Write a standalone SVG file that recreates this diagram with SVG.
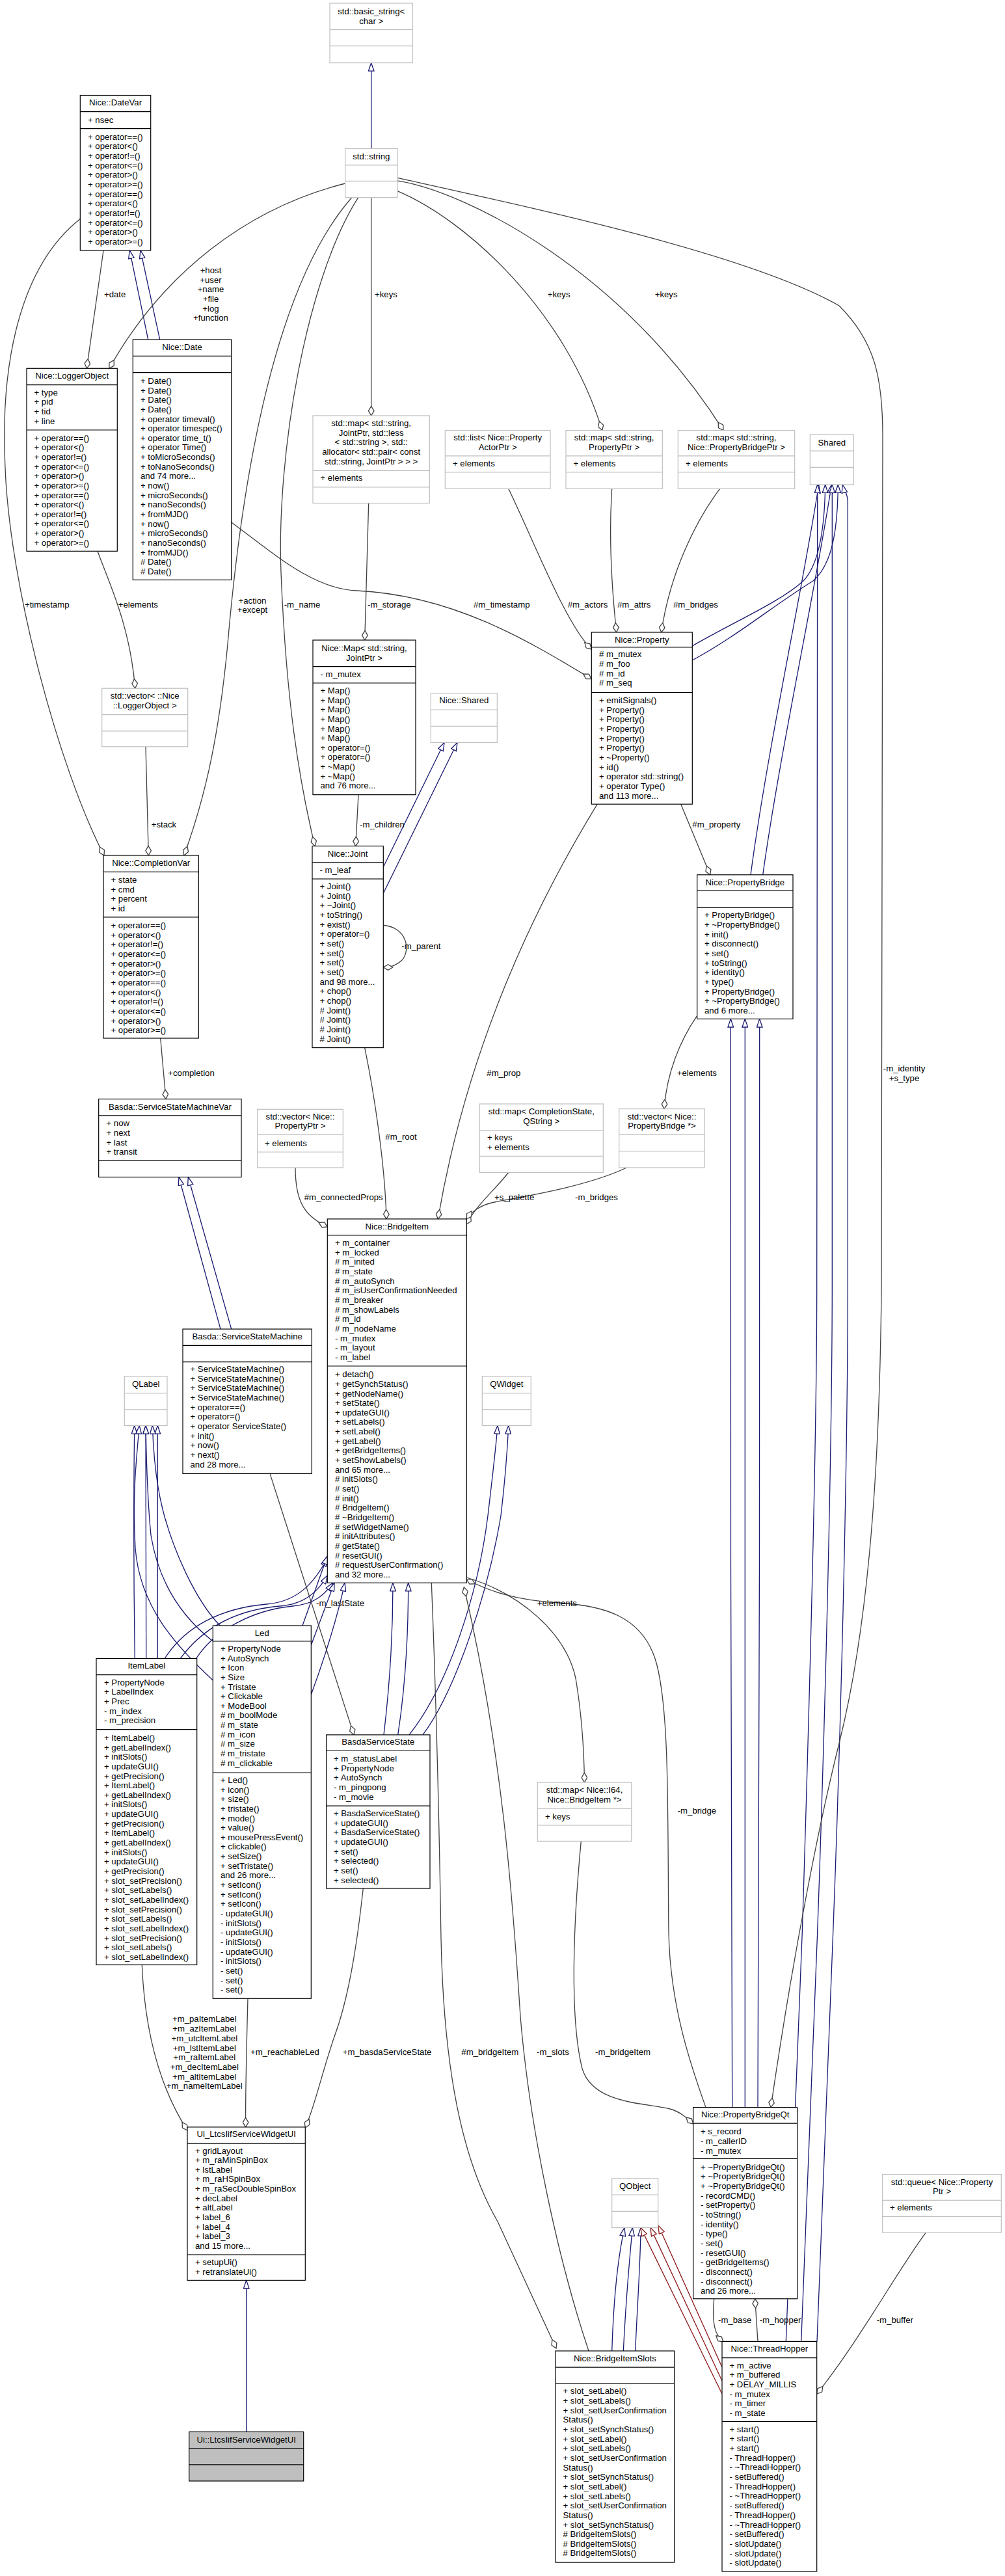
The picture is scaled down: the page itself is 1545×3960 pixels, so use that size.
<svg xmlns="http://www.w3.org/2000/svg" width="1545" height="3960" viewBox="0 0 1545 3960">
<style>
text{font-family:"Liberation Sans",Arial,Helvetica,sans-serif;font-size:13.2px;fill:#000}
.c{text-anchor:middle}
.b{fill:#fff;stroke:#000;stroke-width:1.2}
.g{fill:#fff;stroke:#bfbfbf;stroke-width:1.2}
.f{fill:#bfbfbf;stroke:#000;stroke-width:1.2}
.sb{stroke:#000;stroke-width:1.2;fill:none}
.sg{stroke:#bfbfbf;stroke-width:1.2;fill:none}
.i{fill:none;stroke:#191970;stroke-width:1.3;marker-end:url(#tb)}
.r{fill:none;stroke:#8b1a1a;stroke-width:1.3;marker-end:url(#tr)}
.u{fill:none;stroke:#404040;stroke-width:1.3;marker-end:url(#dm)}
</style>
<defs>
<marker id="tb" viewBox="0 0 14 10" refX="13.3" refY="5" markerWidth="14" markerHeight="10" orient="auto" markerUnits="userSpaceOnUse"><path d="M0.7,0.7 L13.3,5 L0.7,9.3 Z" fill="#fff" stroke="#191970" stroke-width="1.3"/></marker>
<marker id="tr" viewBox="0 0 14 10" refX="13.3" refY="5" markerWidth="14" markerHeight="10" orient="auto" markerUnits="userSpaceOnUse"><path d="M0.7,0.7 L13.3,5 L0.7,9.3 Z" fill="#fff" stroke="#8b1a1a" stroke-width="1.3"/></marker>
<marker id="dm" viewBox="0 0 16 10" refX="15.3" refY="5" markerWidth="16" markerHeight="10" orient="auto" markerUnits="userSpaceOnUse"><path d="M0.7,5 L8,0.7 L15.3,5 L8,9.3 Z" fill="#fff" stroke="#404040" stroke-width="1.3"/></marker>
</defs>
<rect width="1545" height="3960" fill="#fff"/>

<g id="connectors">
<!-- inheritance -->
<path class="i" d="M570.7,228.5 L570.7,96.6"/>
<path class="i" d="M227.7,522 L199.3,384.8"/>
<path class="i" d="M245.7,522 L216,384.8"/>
<path class="i" d="M589.3,1332.8 L683,1141.5"/>
<path class="i" d="M589.3,1373.2 L703,1141.5"/>
<path class="i" d="M1064.3,993 C1130,955 1200,925 1235,893 C1262,865 1268,800 1268.7,745"/>
<path class="i" d="M1064.3,1015 C1130,980 1190,930 1250,893 C1283,865 1288,800 1288.3,745"/>
<path class="i" d="M1154,1344.8 C1180,1150 1235,900 1258.7,745"/>
<path class="i" d="M1172.7,1344.8 C1200,1150 1255,900 1278.3,745"/>
<path class="i" d="M1208.3,3599.4 L1233.3,2970 C1245,2600 1255.7,2200 1255.7,1980 L1256.7,745"/>
<path class="i" d="M1231.7,3599.4 L1256.7,2970 C1270,2600 1279.3,2200 1279.3,1980 L1279.3,745"/>
<path class="i" d="M1256,3599.4 L1280.7,2970 C1295,2600 1303.3,2200 1303.3,1980 L1303.3,770 C1303.3,760 1297,752 1295.3,745"/>
<path class="i" d="M1125.7,3239.6 C1123,3100 1123.3,1700 1123.3,1566.4"/>
<path class="i" d="M1145.3,3239.6 L1145.3,1566.4"/>
<path class="i" d="M1165,3239.6 C1168,3100 1167.7,1700 1167.7,1566.4"/>
<path class="i" d="M339,2043.1 L275,1809.5"/>
<path class="i" d="M355.7,2043.1 L289.3,1809.5"/>
<path class="i" d="M207.3,2549.5 C205,2400 206,2250 206.7,2191.5"/>
<path class="i" d="M224.7,2549.5 L224,2191.5"/>
<path class="i" d="M242.3,2549.5 C243,2400 242.3,2250 242.3,2191.5"/>
<path class="i" d="M327.3,2583 C270,2530 215,2470 208,2380 C203,2300 210,2240 214.3,2191.5"/>
<path class="i" d="M327.3,2523 C285,2490 245,2440 232,2360 C226,2300 225,2240 224,2191.5"/>
<path class="i" d="M338.3,2499 C300,2460 265,2380 250,2320 C240,2280 236,2240 234.3,2191.5"/>
<path class="i" d="M253.3,2549.5 C285,2500 340,2472 410,2466 C460,2462 485,2430 503.3,2395"/>
<path class="i" d="M277.3,2549.5 C310,2505 360,2475 430,2469 C470,2466 490,2445 503.3,2422"/>
<path class="i" d="M301.7,2549.5 C330,2505 390,2475 450,2469 C485,2466 500,2450 511.7,2433.3"/>
<path class="i" d="M465,2499 L503.3,2392"/>
<path class="i" d="M478.3,2529 L514,2433.3"/>
<path class="i" d="M478.3,2605 C495,2560 518,2490 530,2433.3"/>
<path class="i" d="M590,2666.9 C598,2600 604,2520 604,2433.3"/>
<path class="i" d="M611.7,2666.9 C622,2600 627.7,2520 627.7,2433.3"/>
<path class="i" d="M629,2666.9 C690,2590 735,2450 750,2330 C757,2270 762,2230 765,2191.5"/>
<path class="i" d="M650,2666.9 C700,2600 750,2450 770,2330 C777,2270 780,2230 781.7,2191.5"/>
<path class="i" d="M940.7,3614 C943,3540 950,3470 960,3424.6"/>
<path class="i" d="M958.3,3614 C962,3540 968,3470 972.3,3424.6"/>
<path class="i" d="M976.7,3614 C980,3540 985,3470 985,3424.6"/>
<path class="r" d="M1110,3680 L985,3424.6"/>
<path class="r" d="M1110,3660 L1000,3424.6"/>
<path class="r" d="M1110,3639 L1012,3421"/>
<path class="i" d="M378.7,3738.3 L378.7,3505.4"/>
<!-- usage -->
<path class="u" d="M159,385 L133.3,566.3"/>
<path class="u" d="M530.7,282 C380,320 250,420 168,566.3"/>
<path class="u" d="M150,847.3 C165,890 200,960 207.7,1058.2"/>
<path class="u" d="M123.3,336.5 C30,410 0,560 8,720 C15,900 90,1180 160,1315"/>
<path class="u" d="M224,1147.8 L228.3,1315"/>
<path class="u" d="M540.7,303.7 C430,430 375,700 350,990 C335,1150 310,1240 283,1315"/>
<path class="u" d="M550.7,303.7 C470,430 425,700 432,880 C440,1080 460,1200 484,1300.6"/>
<path class="u" d="M570.7,303.7 L570.7,639"/>
<path class="u" d="M611,293.6 C720,340 870,480 925.7,661.6"/>
<path class="u" d="M611,277.8 C720,295 960,420 1112,661.6"/>
<path class="u" d="M611,273.4 C820,320 1150,390 1290,470 C1345,525 1358,580 1357,680 L1355,1980 C1352,2300 1330,2520 1290,2680 C1260,2800 1220,3000 1185,3239.6"/>
<path class="u" d="M781.7,751.3 C820,830 870,960 909.3,998"/>
<path class="u" d="M940.7,751.3 C936,820 940,900 947.7,972"/>
<path class="u" d="M1106.7,751.3 C1070,800 1030,880 1016.7,972"/>
<path class="u" d="M355.7,803 C420,850 480,905 548,908 C700,915 820,990 909.3,1043.7"/>
<path class="u" d="M566.7,773.5 L560.7,984"/>
<path class="u" d="M551,1221.7 L546.7,1300.6"/>
<path class="u" d="M589.3,1422.5 C625,1425 632,1460 618,1476 C610,1484 600,1487 589.3,1487"/>
<path class="u" d="M560.7,1610.6 C575,1680 592,1790 594,1873.9"/>
<path class="u" d="M918.3,1236.2 C830,1380 720,1600 673.3,1873.9"/>
<path class="u" d="M246.7,1596 L255,1689.5"/>
<path class="u" d="M454,1795 C454,1850 470,1870 503.3,1886"/>
<path class="u" d="M781.7,1802.5 C760,1830 730,1855 717.3,1882"/>
<path class="u" d="M963.3,1795 C900,1825 800,1840 760,1848 C740,1852 725,1862 717.3,1874"/>
<path class="u" d="M1071.7,1561.3 C1045,1600 1025,1650 1021,1704.6"/>
<path class="u" d="M1046.7,1236.2 L1091.7,1344.8"/>
<path class="u" d="M415,2265.4 L544,2666.9"/>
<path class="u" d="M717.3,2425 C800,2450 870,2510 885,2580 C895,2640 898,2700 898.5,2740"/>
<path class="u" d="M893.3,2830.4 C882,2950 875,3100 895,3180 C912,3235 990,3232 1030,3242 C1045,3246 1055,3255 1065.7,3265"/>
<path class="u" d="M663.3,2433.3 C672,2650 676,2850 678,2980 C682,3180 710,3320 765,3415 L855,3610"/>
<path class="u" d="M905,3614 C860,3480 815,3280 800,3100 C790,2950 775,2700 713.3,2440"/>
<path class="u" d="M1085,3239.6 C1060,3170 1030,3080 1028,2970 C1026,2800 1030,2640 1010,2560 C990,2480 920,2468 860,2464 C790,2460 750,2445 717.3,2428"/>
<path class="u" d="M558.3,2903 C552,2960 540,3060 515,3128 C495,3185 485,3235 469.3,3271"/>
<path class="u" d="M218.3,3020.5 C222,3110 240,3200 288,3275"/>
<path class="u" d="M381,3072.3 C379,3150 377,3220 377.7,3269.9"/>
<path class="u" d="M1423.3,3432.1 C1380,3490 1320,3600 1255.7,3680"/>
<path class="u" d="M1097.7,3533.8 C1094,3575 1100,3590 1112,3600"/>
<path class="u" d="M1165,3599.4 L1160.7,3533.8"/>
<!-- labels -->
<text x="160" y="457.3">+date</text>
<text class="c" x="324" y="420.1"><tspan x="324">+host</tspan><tspan x="324" dy="14.65">+user</tspan><tspan x="324" dy="14.65">+name</tspan><tspan x="324" dy="14.65">+file</tspan><tspan x="324" dy="14.65">+log</tspan><tspan x="324" dy="14.65">+function</tspan></text>
<text x="576" y="457.3">+keys</text>
<text x="841.7" y="457.3">+keys</text>
<text x="1006.7" y="457.3">+keys</text>
<text x="38" y="933.9">+timestamp</text>
<text x="181.7" y="933.9">+elements</text>
<text class="c" x="388" y="927.6"><tspan x="388">+action</tspan><tspan x="388" dy="14.65">+except</tspan></text>
<text x="436.7" y="933.9">-m_name</text>
<text x="565" y="933.9">-m_storage</text>
<text x="728" y="933.9">#m_timestamp</text>
<text x="872.7" y="933.9">#m_actors</text>
<text x="949" y="933.9">#m_attrs</text>
<text x="1035" y="933.9">#m_bridges</text>
<text x="232.7" y="1272.4">+stack</text>
<text x="553" y="1272.4">-m_children</text>
<text x="1064.3" y="1272.4">#m_property</text>
<text x="617.3" y="1459.3">-m_parent</text>
<text x="258.3" y="1654.3">+completion</text>
<text x="748.3" y="1654.3">#m_prop</text>
<text x="1040.7" y="1654.3">+elements</text>
<text class="c" x="1390" y="1646.8"><tspan x="1390">-m_identity</tspan><tspan x="1390" dy="15">+s_type</tspan></text>
<text x="592.3" y="1752.2">#m_root</text>
<text x="467.7" y="1845">#m_connectedProps</text>
<text x="760" y="1845">+s_palette</text>
<text x="884" y="1845">-m_bridges</text>
<text x="486" y="2468.8">-m_lastState</text>
<text x="825.7" y="2468.8">+elements</text>
<text x="1041.7" y="2788.3">-m_bridge</text>
<text class="c" x="314.3" y="3108.4"><tspan x="314.3">+m_paItemLabel</tspan><tspan x="314.3" dy="14.7">+m_azItemLabel</tspan><tspan x="314.3" dy="14.7">+m_utcItemLabel</tspan><tspan x="314.3" dy="14.7">+m_lstItemLabel</tspan><tspan x="314.3" dy="14.7">+m_raItemLabel</tspan><tspan x="314.3" dy="14.7">+m_decItemLabel</tspan><tspan x="314.3" dy="14.7">+m_altItemLabel</tspan><tspan x="314.3" dy="14.7">+m_nameItemLabel</tspan></text>
<text x="385" y="3159">+m_reachableLed</text>
<text x="526.7" y="3159">+m_basdaServiceState</text>
<text x="709.3" y="3159">#m_bridgeItem</text>
<text x="825" y="3159">-m_slots</text>
<text x="915" y="3159">-m_bridgeItem</text>
<text x="1104" y="3571.2">-m_base</text>
<text x="1167.7" y="3571.2">-m_hopper</text>
<text x="1347.7" y="3571.2">-m_buffer</text>
</g>

<g id="n_basic_string"><rect class="g" x="507" y="5" width="127.3" height="91.6"/><path class="sg" d="M507,45.5h127.3M507,70.7h127.3"/><text class="c" x="570.7" y="22.3"><tspan x="570.7">std::basic_string&lt;</tspan><tspan x="570.7" dy="15.1">char &gt;</tspan></text></g>

<g id="n_string"><rect class="g" x="530.7" y="228.5" width="80.3" height="75.2"/><path class="sg" d="M530.7,253.8h80.3M530.7,278.4h80.3"/><text class="c" x="570.85" y="244.6">std::string</text></g>

<g id="n_datevar"><rect class="b" x="123.3" y="146.5" width="108.4" height="238.5"/><path class="sb" d="M123.3,171.7h108.4M123.3,197.6h108.4"/><text class="c" x="177.5" y="162.4">Nice::DateVar</text><text x="135" y="188.9">+ nsec</text>
<text x="135" y="214.8"><tspan x="135">+ operator==()</tspan><tspan x="135" dy="14.65">+ operator&lt;()</tspan><tspan x="135" dy="14.65">+ operator!=()</tspan><tspan x="135" dy="14.65">+ operator&lt;=()</tspan><tspan x="135" dy="14.65">+ operator&gt;()</tspan><tspan x="135" dy="14.65">+ operator&gt;=()</tspan><tspan x="135" dy="14.65">+ operator==()</tspan><tspan x="135" dy="14.65">+ operator&lt;()</tspan><tspan x="135" dy="14.65">+ operator!=()</tspan><tspan x="135" dy="14.65">+ operator&lt;=()</tspan><tspan x="135" dy="14.65">+ operator&gt;()</tspan><tspan x="135" dy="14.65">+ operator&gt;=()</tspan></text></g>

<g id="n_loggerobject"><rect class="b" x="41" y="566.3" width="139.3" height="281"/><path class="sb" d="M41,591.6h139.3M41,661h139.3"/><text class="c" x="110.65" y="582.3">Nice::LoggerObject</text>
<text x="52.5" y="607.6"><tspan x="52.5">+ type</tspan><tspan x="52.5" dy="14.65">+ pid</tspan><tspan x="52.5" dy="14.65">+ tid</tspan><tspan x="52.5" dy="14.65">+ line</tspan></text>
<text x="52.5" y="677.6"><tspan x="52.5">+ operator==()</tspan><tspan x="52.5" dy="14.65">+ operator&lt;()</tspan><tspan x="52.5" dy="14.65">+ operator!=()</tspan><tspan x="52.5" dy="14.65">+ operator&lt;=()</tspan><tspan x="52.5" dy="14.65">+ operator&gt;()</tspan><tspan x="52.5" dy="14.65">+ operator&gt;=()</tspan><tspan x="52.5" dy="14.65">+ operator==()</tspan><tspan x="52.5" dy="14.65">+ operator&lt;()</tspan><tspan x="52.5" dy="14.65">+ operator!=()</tspan><tspan x="52.5" dy="14.65">+ operator&lt;=()</tspan><tspan x="52.5" dy="14.65">+ operator&gt;()</tspan><tspan x="52.5" dy="14.65">+ operator&gt;=()</tspan></text></g>

<g id="n_date"><rect class="b" x="204.3" y="522" width="151.4" height="369.5"/><path class="sb" d="M204.3,547.4h151.4M204.3,572.6h151.4"/><text class="c" x="280" y="538.1">Nice::Date</text>
<text x="216" y="589.9"><tspan x="216">+ Date()</tspan><tspan x="216" dy="14.65">+ Date()</tspan><tspan x="216" dy="14.65">+ Date()</tspan><tspan x="216" dy="14.65">+ Date()</tspan><tspan x="216" dy="14.65">+ operator timeval()</tspan><tspan x="216" dy="14.65">+ operator timespec()</tspan><tspan x="216" dy="14.65">+ operator time_t()</tspan><tspan x="216" dy="14.65">+ operator Time()</tspan><tspan x="216" dy="14.65">+ toMicroSeconds()</tspan><tspan x="216" dy="14.65">+ toNanoSeconds()</tspan><tspan x="216" dy="14.65">and 74 more...</tspan><tspan x="216" dy="14.65">+ now()</tspan><tspan x="216" dy="14.65">+ microSeconds()</tspan><tspan x="216" dy="14.65">+ nanoSeconds()</tspan><tspan x="216" dy="14.65">+ fromMJD()</tspan><tspan x="216" dy="14.65">+ now()</tspan><tspan x="216" dy="14.65">+ microSeconds()</tspan><tspan x="216" dy="14.65">+ nanoSeconds()</tspan><tspan x="216" dy="14.65">+ fromMJD()</tspan><tspan x="216" dy="14.65"># Date()</tspan><tspan x="216" dy="14.65"># Date()</tspan></text></g>

<g id="n_map_joint"><rect class="g" x="481" y="639" width="179.3" height="134.5"/><path class="sg" d="M481,723.5h179.3M481,748.8h179.3"/><text class="c" x="570.65" y="654.9"><tspan x="570.65">std::map&lt; std::string,</tspan><tspan x="570.65" dy="14.65">JointPtr, std::less</tspan><tspan x="570.65" dy="14.65">&lt; std::string &gt;, std::</tspan><tspan x="570.65" dy="14.65">allocator&lt; std::pair&lt; const</tspan><tspan x="570.65" dy="14.65">std::string, JointPtr &gt; &gt; &gt;</tspan></text><text x="492.5" y="738.9">+ elements</text></g>

<g id="n_list_actor"><rect class="g" x="684.3" y="661.6" width="161.7" height="89.7"/><path class="sg" d="M684.3,700.8h161.7M684.3,726h161.7"/><text class="c" x="765.15" y="677"><tspan x="765.15">std::list&lt; Nice::Property</tspan><tspan x="765.15" dy="14.65">ActorPtr &gt;</tspan></text><text x="696" y="716.7">+ elements</text></g>

<g id="n_map_prop"><rect class="g" x="870" y="661.6" width="148.3" height="89.7"/><path class="sg" d="M870,700.8h148.3M870,726h148.3"/><text class="c" x="944.15" y="677"><tspan x="944.15">std::map&lt; std::string,</tspan><tspan x="944.15" dy="14.65">PropertyPtr &gt;</tspan></text><text x="881.5" y="716.7">+ elements</text></g>

<g id="n_map_pbptr"><rect class="g" x="1042.3" y="661.6" width="179.4" height="89.7"/><path class="sg" d="M1042.3,700.8h179.4M1042.3,726h179.4"/><text class="c" x="1132" y="677"><tspan x="1132">std::map&lt; std::string,</tspan><tspan x="1132" dy="14.65">Nice::PropertyBridgePtr &gt;</tspan></text><text x="1054" y="716.7">+ elements</text></g>

<g id="n_shared"><rect class="g" x="1245.3" y="668" width="67" height="77"/><path class="sg" d="M1245.3,693.2h67M1245.3,718.4h67"/><text class="c" x="1278.8" y="685.2">Shared</text></g>

<g id="n_nice_map"><rect class="b" x="481" y="984" width="158" height="237.7"/><path class="sb" d="M481,1024.7h158M481,1050h158"/><text class="c" x="560" y="1000.9"><tspan x="560">Nice::Map&lt; std::string,</tspan><tspan x="560" dy="14.65">JointPtr &gt;</tspan></text><text x="492.5" y="1040.6">- m_mutex</text>
<text x="492.5" y="1065.9"><tspan x="492.5">+ Map()</tspan><tspan x="492.5" dy="14.65">+ Map()</tspan><tspan x="492.5" dy="14.65">+ Map()</tspan><tspan x="492.5" dy="14.65">+ Map()</tspan><tspan x="492.5" dy="14.65">+ Map()</tspan><tspan x="492.5" dy="14.65">+ Map()</tspan><tspan x="492.5" dy="14.65">+ operator=()</tspan><tspan x="492.5" dy="14.65">+ operator=()</tspan><tspan x="492.5" dy="14.65">+ ~Map()</tspan><tspan x="492.5" dy="14.65">+ ~Map()</tspan><tspan x="492.5" dy="14.65">and 76 more...</tspan></text></g>

<g id="n_nice_shared"><rect class="g" x="662.3" y="1065.8" width="102" height="75.7"/><path class="sg" d="M662.3,1091h102M662.3,1116.3h102"/><text class="c" x="713.3" y="1081.1">Nice::Shared</text></g>

<g id="n_property"><rect class="b" x="909.3" y="972" width="155" height="264.2"/><path class="sb" d="M909.3,995h155M909.3,1064.5h155"/><text class="c" x="986.8" y="988">Nice::Property</text>
<text x="921" y="1010.4"><tspan x="921"># m_mutex</tspan><tspan x="921" dy="14.65"># m_foo</tspan><tspan x="921" dy="14.65"># m_id</tspan><tspan x="921" dy="14.65"># m_seq</tspan></text>
<text x="921" y="1081.1"><tspan x="921">+ emitSignals()</tspan><tspan x="921" dy="14.65">+ Property()</tspan><tspan x="921" dy="14.65">+ Property()</tspan><tspan x="921" dy="14.65">+ Property()</tspan><tspan x="921" dy="14.65">+ Property()</tspan><tspan x="921" dy="14.65">+ Property()</tspan><tspan x="921" dy="14.65">+ ~Property()</tspan><tspan x="921" dy="14.65">+ id()</tspan><tspan x="921" dy="14.65">+ operator std::string()</tspan><tspan x="921" dy="14.65">+ operator Type()</tspan><tspan x="921" dy="14.65">and 113 more...</tspan></text></g>

<g id="n_vec_logger"><rect class="g" x="156.7" y="1058.2" width="132" height="89.6"/><path class="sg" d="M156.7,1098.6h132M156.7,1123.8h132"/><text class="c" x="222.7" y="1073.5"><tspan x="222.7">std::vector&lt; ::Nice</tspan><tspan x="222.7" dy="15.2">::LoggerObject &gt;</tspan></text></g>

<g id="n_completionvar"><rect class="b" x="159" y="1315" width="146.3" height="281"/><path class="sb" d="M159,1340.4h146.3M159,1409.8h146.3"/><text class="c" x="232.15" y="1331.1">Nice::CompletionVar</text>
<text x="170.5" y="1357"><tspan x="170.5">+ state</tspan><tspan x="170.5" dy="14.65">+ cmd</tspan><tspan x="170.5" dy="14.65">+ percent</tspan><tspan x="170.5" dy="14.65">+ id</tspan></text>
<text x="170.5" y="1427.1"><tspan x="170.5">+ operator==()</tspan><tspan x="170.5" dy="14.65">+ operator&lt;()</tspan><tspan x="170.5" dy="14.65">+ operator!=()</tspan><tspan x="170.5" dy="14.65">+ operator&lt;=()</tspan><tspan x="170.5" dy="14.65">+ operator&gt;()</tspan><tspan x="170.5" dy="14.65">+ operator&gt;=()</tspan><tspan x="170.5" dy="14.65">+ operator==()</tspan><tspan x="170.5" dy="14.65">+ operator&lt;()</tspan><tspan x="170.5" dy="14.65">+ operator!=()</tspan><tspan x="170.5" dy="14.65">+ operator&lt;=()</tspan><tspan x="170.5" dy="14.65">+ operator&gt;()</tspan><tspan x="170.5" dy="14.65">+ operator&gt;=()</tspan></text></g>

<g id="n_joint"><rect class="b" x="480" y="1300.6" width="109.3" height="310"/><path class="sb" d="M480,1325.9h109.3M480,1351.1h109.3"/><text class="c" x="534.65" y="1316.6">Nice::Joint</text><text x="491.5" y="1341.8">- m_leaf</text>
<text x="491.5" y="1367.1"><tspan x="491.5">+ Joint()</tspan><tspan x="491.5" dy="14.65">+ Joint()</tspan><tspan x="491.5" dy="14.65">+ ~Joint()</tspan><tspan x="491.5" dy="14.65">+ toString()</tspan><tspan x="491.5" dy="14.65">+ exist()</tspan><tspan x="491.5" dy="14.65">+ operator=()</tspan><tspan x="491.5" dy="14.65">+ set()</tspan><tspan x="491.5" dy="14.65">+ set()</tspan><tspan x="491.5" dy="14.65">+ set()</tspan><tspan x="491.5" dy="14.65">+ set()</tspan><tspan x="491.5" dy="14.65">and 98 more...</tspan><tspan x="491.5" dy="14.65">+ chop()</tspan><tspan x="491.5" dy="14.65">+ chop()</tspan><tspan x="491.5" dy="14.65"># Joint()</tspan><tspan x="491.5" dy="14.65"># Joint()</tspan><tspan x="491.5" dy="14.65"># Joint()</tspan><tspan x="491.5" dy="14.65"># Joint()</tspan></text></g>

<g id="n_propertybridge"><rect class="b" x="1071.7" y="1344.8" width="147.3" height="221.6"/><path class="sb" d="M1071.7,1369.4h147.3M1071.7,1395.3h147.3"/><text class="c" x="1145.35" y="1360.8">Nice::PropertyBridge</text>
<text x="1083" y="1411.3"><tspan x="1083">+ PropertyBridge()</tspan><tspan x="1083" dy="14.65">+ ~PropertyBridge()</tspan><tspan x="1083" dy="14.65">+ init()</tspan><tspan x="1083" dy="14.65">+ disconnect()</tspan><tspan x="1083" dy="14.65">+ set()</tspan><tspan x="1083" dy="14.65">+ toString()</tspan><tspan x="1083" dy="14.65">+ identity()</tspan><tspan x="1083" dy="14.65">+ type()</tspan><tspan x="1083" dy="14.65">+ PropertyBridge()</tspan><tspan x="1083" dy="14.65">+ ~PropertyBridge()</tspan><tspan x="1083" dy="14.65">and 6 more...</tspan></text></g>

<g id="n_ssmvar"><rect class="b" x="151.7" y="1689.5" width="219.3" height="120"/><path class="sb" d="M151.7,1714.8h219.3M151.7,1784.2h219.3"/><text class="c" x="261.35" y="1706.1">Basda::ServiceStateMachineVar</text>
<text x="163.5" y="1731.4"><tspan x="163.5">+ now</tspan><tspan x="163.5" dy="14.65">+ next</tspan><tspan x="163.5" dy="14.65">+ last</tspan><tspan x="163.5" dy="14.65">+ transit</tspan></text></g>

<g id="n_vec_propptr"><rect class="g" x="395.7" y="1705.3" width="131.6" height="89.7"/><path class="sg" d="M395.7,1744.4h131.6M395.7,1771h131.6"/><text class="c" x="461.5" y="1720.6"><tspan x="461.5">std::vector&lt; Nice::</tspan><tspan x="461.5" dy="14.65">PropertyPtr &gt;</tspan></text><text x="407" y="1761.6">+ elements</text></g>

<g id="n_map_cs"><rect class="g" x="737.3" y="1697" width="190" height="105.5"/><path class="sg" d="M737.3,1737.5h190M737.3,1777.3h190"/><text class="c" x="832.3" y="1713"><tspan x="832.3">std::map&lt; CompletionState,</tspan><tspan x="832.3" dy="14.65">QString &gt;</tspan></text><text x="749" y="1753.4"><tspan x="749">+ keys</tspan><tspan x="749" dy="14.65">+ elements</tspan></text></g>

<g id="n_vec_pb"><rect class="g" x="951.7" y="1704.6" width="131.6" height="90.4"/><path class="sg" d="M951.7,1744.4h131.6M951.7,1769.7h131.6"/><text class="c" x="1017.5" y="1720.6"><tspan x="1017.5">std::vector&lt; Nice::</tspan><tspan x="1017.5" dy="14.65">PropertyBridge *&gt;</tspan></text></g>

<g id="n_bridgeitem"><rect class="b" x="503.3" y="1873.9" width="214" height="559.4"/><path class="sb" d="M503.3,1899h214M503.3,2100h214"/><text class="c" x="610.3" y="1889.8">Nice::BridgeItem</text>
<text x="515" y="1915.1"><tspan x="515">+ m_container</tspan><tspan x="515" dy="14.65">+ m_locked</tspan><tspan x="515" dy="14.65"># m_inited</tspan><tspan x="515" dy="14.65"># m_state</tspan><tspan x="515" dy="14.65"># m_autoSynch</tspan><tspan x="515" dy="14.65"># m_isUserConfirmationNeeded</tspan><tspan x="515" dy="14.65"># m_breaker</tspan><tspan x="515" dy="14.65"># m_showLabels</tspan><tspan x="515" dy="14.65"># m_id</tspan><tspan x="515" dy="14.65"># m_nodeName</tspan><tspan x="515" dy="14.65">- m_mutex</tspan><tspan x="515" dy="14.65">- m_layout</tspan><tspan x="515" dy="14.65">- m_label</tspan></text>
<text x="515" y="2117.2"><tspan x="515">+ detach()</tspan><tspan x="515" dy="14.65">+ getSynchStatus()</tspan><tspan x="515" dy="14.65">+ getNodeName()</tspan><tspan x="515" dy="14.65">+ setState()</tspan><tspan x="515" dy="14.65">+ updateGUI()</tspan><tspan x="515" dy="14.65">+ setLabels()</tspan><tspan x="515" dy="14.65">+ setLabel()</tspan><tspan x="515" dy="14.65">+ getLabel()</tspan><tspan x="515" dy="14.65">+ getBridgeItems()</tspan><tspan x="515" dy="14.65">+ setShowLabels()</tspan><tspan x="515" dy="14.65">and 65 more...</tspan><tspan x="515" dy="14.65"># initSlots()</tspan><tspan x="515" dy="14.65"># set()</tspan><tspan x="515" dy="14.65"># init()</tspan><tspan x="515" dy="14.65"># BridgeItem()</tspan><tspan x="515" dy="14.65"># ~BridgeItem()</tspan><tspan x="515" dy="14.65"># setWidgetName()</tspan><tspan x="515" dy="14.65"># initAttributes()</tspan><tspan x="515" dy="14.65"># getState()</tspan><tspan x="515" dy="14.65"># resetGUI()</tspan><tspan x="515" dy="14.65"># requestUserConfirmation()</tspan><tspan x="515" dy="14.65">and 32 more...</tspan></text></g>

<g id="n_ssm"><rect class="b" x="281" y="2043.1" width="198.3" height="222.3"/><path class="sb" d="M281,2068.4h198.3M281,2093.6h198.3"/><text class="c" x="380.15" y="2059.1">Basda::ServiceStateMachine</text>
<text x="292.5" y="2109"><tspan x="292.5">+ ServiceStateMachine()</tspan><tspan x="292.5" dy="14.65">+ ServiceStateMachine()</tspan><tspan x="292.5" dy="14.65">+ ServiceStateMachine()</tspan><tspan x="292.5" dy="14.65">+ ServiceStateMachine()</tspan><tspan x="292.5" dy="14.65">+ operator==()</tspan><tspan x="292.5" dy="14.65">+ operator=()</tspan><tspan x="292.5" dy="14.65">+ operator ServiceState()</tspan><tspan x="292.5" dy="14.65">+ init()</tspan><tspan x="292.5" dy="14.65">+ now()</tspan><tspan x="292.5" dy="14.65">+ next()</tspan><tspan x="292.5" dy="14.65">and 28 more...</tspan></text></g>

<g id="n_qlabel"><rect class="g" x="191.3" y="2115.7" width="65.7" height="75.8"/><path class="sg" d="M191.3,2141.6h65.7M191.3,2166.9h65.7"/><text class="c" x="224.15" y="2131.6">QLabel</text></g>

<g id="n_qwidget"><rect class="g" x="741.3" y="2115.7" width="75" height="75.8"/><path class="sg" d="M741.3,2141.6h75M741.3,2166.9h75"/><text class="c" x="778.8" y="2131.6">QWidget</text></g>

<g id="n_itemlabel"><rect class="b" x="148" y="2549.5" width="154.7" height="471"/><path class="sb" d="M148,2574.7h154.7M148,2658.7h154.7"/><text class="c" x="225.35" y="2565.4">ItemLabel</text>
<text x="160" y="2590.6"><tspan x="160">+ PropertyNode</tspan><tspan x="160" dy="14.65">+ LabelIndex</tspan><tspan x="160" dy="14.65">+ Prec</tspan><tspan x="160" dy="14.65">- m_index</tspan><tspan x="160" dy="14.65">- m_precision</tspan></text>
<text x="160" y="2675.9"><tspan x="160">+ ItemLabel()</tspan><tspan x="160" dy="14.65">+ getLabelIndex()</tspan><tspan x="160" dy="14.65">+ initSlots()</tspan><tspan x="160" dy="14.65">+ updateGUI()</tspan><tspan x="160" dy="14.65">+ getPrecision()</tspan><tspan x="160" dy="14.65">+ ItemLabel()</tspan><tspan x="160" dy="14.65">+ getLabelIndex()</tspan><tspan x="160" dy="14.65">+ initSlots()</tspan><tspan x="160" dy="14.65">+ updateGUI()</tspan><tspan x="160" dy="14.65">+ getPrecision()</tspan><tspan x="160" dy="14.65">+ ItemLabel()</tspan><tspan x="160" dy="14.65">+ getLabelIndex()</tspan><tspan x="160" dy="14.65">+ initSlots()</tspan><tspan x="160" dy="14.65">+ updateGUI()</tspan><tspan x="160" dy="14.65">+ getPrecision()</tspan><tspan x="160" dy="14.65">+ slot_setPrecision()</tspan><tspan x="160" dy="14.65">+ slot_setLabels()</tspan><tspan x="160" dy="14.65">+ slot_setLabelIndex()</tspan><tspan x="160" dy="14.65">+ slot_setPrecision()</tspan><tspan x="160" dy="14.65">+ slot_setLabels()</tspan><tspan x="160" dy="14.65">+ slot_setLabelIndex()</tspan><tspan x="160" dy="14.65">+ slot_setPrecision()</tspan><tspan x="160" dy="14.65">+ slot_setLabels()</tspan><tspan x="160" dy="14.65">+ slot_setLabelIndex()</tspan></text></g>

<g id="n_led"><rect class="b" x="327.3" y="2499" width="151" height="573.3"/><path class="sb" d="M327.3,2523h151M327.3,2725h151"/><text class="c" x="402.8" y="2514.9">Led</text>
<text x="339" y="2538.9"><tspan x="339">+ PropertyNode</tspan><tspan x="339" dy="14.65">+ AutoSynch</tspan><tspan x="339" dy="14.65">+ Icon</tspan><tspan x="339" dy="14.65">+ Size</tspan><tspan x="339" dy="14.65">+ Tristate</tspan><tspan x="339" dy="14.65">+ Clickable</tspan><tspan x="339" dy="14.65">+ ModeBool</tspan><tspan x="339" dy="14.65"># m_boolMode</tspan><tspan x="339" dy="14.65"># m_state</tspan><tspan x="339" dy="14.65"># m_icon</tspan><tspan x="339" dy="14.65"># m_size</tspan><tspan x="339" dy="14.65"># m_tristate</tspan><tspan x="339" dy="14.65"># m_clickable</tspan></text>
<text x="339" y="2740.9"><tspan x="339">+ Led()</tspan><tspan x="339" dy="14.65">+ icon()</tspan><tspan x="339" dy="14.65">+ size()</tspan><tspan x="339" dy="14.65">+ tristate()</tspan><tspan x="339" dy="14.65">+ mode()</tspan><tspan x="339" dy="14.65">+ value()</tspan><tspan x="339" dy="14.65">+ mousePressEvent()</tspan><tspan x="339" dy="14.65">+ clickable()</tspan><tspan x="339" dy="14.65">+ setSize()</tspan><tspan x="339" dy="14.65">+ setTristate()</tspan><tspan x="339" dy="14.65">and 26 more...</tspan><tspan x="339" dy="14.65">+ setIcon()</tspan><tspan x="339" dy="14.65">+ setIcon()</tspan><tspan x="339" dy="14.65">+ setIcon()</tspan><tspan x="339" dy="14.65">- updateGUI()</tspan><tspan x="339" dy="14.65">- initSlots()</tspan><tspan x="339" dy="14.65">- updateGUI()</tspan><tspan x="339" dy="14.65">- initSlots()</tspan><tspan x="339" dy="14.65">- updateGUI()</tspan><tspan x="339" dy="14.65">- initSlots()</tspan><tspan x="339" dy="14.65">- set()</tspan><tspan x="339" dy="14.65">- set()</tspan><tspan x="339" dy="14.65">- set()</tspan></text></g>

<g id="n_bss"><rect class="b" x="501.7" y="2666.9" width="159.3" height="236.1"/><path class="sb" d="M501.7,2691.5h159.3M501.7,2776.1h159.3"/><text class="c" x="581.35" y="2682.2">BasdaServiceState</text>
<text x="513" y="2708.1"><tspan x="513">+ m_statusLabel</tspan><tspan x="513" dy="14.65">+ PropertyNode</tspan><tspan x="513" dy="14.65">+ AutoSynch</tspan><tspan x="513" dy="14.65">- m_pingpong</tspan><tspan x="513" dy="14.65">- m_movie</tspan></text>
<text x="513" y="2792.1"><tspan x="513">+ BasdaServiceState()</tspan><tspan x="513" dy="14.65">+ updateGUI()</tspan><tspan x="513" dy="14.65">+ BasdaServiceState()</tspan><tspan x="513" dy="14.65">+ updateGUI()</tspan><tspan x="513" dy="14.65">+ set()</tspan><tspan x="513" dy="14.65">+ selected()</tspan><tspan x="513" dy="14.65">+ set()</tspan><tspan x="513" dy="14.65">+ selected()</tspan></text></g>

<g id="n_map_i64"><rect class="g" x="826.3" y="2740" width="144.4" height="90.4"/><path class="sg" d="M826.3,2780.5h144.4M826.3,2805.8h144.4"/><text class="c" x="898.5" y="2756.1"><tspan x="898.5">std::map&lt; Nice::I64,</tspan><tspan x="898.5" dy="14.65">Nice::BridgeItem *&gt;</tspan></text><text x="838" y="2796.6">+ keys</text></g>

<g id="n_pbqt"><rect class="b" x="1065.7" y="3239.6" width="160" height="294.2"/><path class="sb" d="M1065.7,3264.2h160M1065.7,3318.5h160"/><text class="c" x="1145.7" y="3254.9">Nice::PropertyBridgeQt</text>
<text x="1077" y="3281.4"><tspan x="1077">+ s_record</tspan><tspan x="1077" dy="14.65">- m_callerID</tspan><tspan x="1077" dy="14.65">- m_mutex</tspan></text>
<text x="1077" y="3335.7"><tspan x="1077">+ ~PropertyBridgeQt()</tspan><tspan x="1077" dy="14.65">+ ~PropertyBridgeQt()</tspan><tspan x="1077" dy="14.65">+ ~PropertyBridgeQt()</tspan><tspan x="1077" dy="14.65">- recordCMD()</tspan><tspan x="1077" dy="14.65">- setProperty()</tspan><tspan x="1077" dy="14.65">- toString()</tspan><tspan x="1077" dy="14.65">- identity()</tspan><tspan x="1077" dy="14.65">- type()</tspan><tspan x="1077" dy="14.65">- set()</tspan><tspan x="1077" dy="14.65">- resetGUI()</tspan><tspan x="1077" dy="14.65">- getBridgeItems()</tspan><tspan x="1077" dy="14.65">- disconnect()</tspan><tspan x="1077" dy="14.65">- disconnect()</tspan><tspan x="1077" dy="14.65">and 26 more...</tspan></text></g>

<g id="n_qobject"><rect class="g" x="940.7" y="3348.8" width="71" height="75.8"/><path class="sg" d="M940.7,3374h71M940.7,3399.3h71"/><text class="c" x="976.2" y="3364.8">QObject</text></g>

<g id="n_queue"><rect class="g" x="1356.7" y="3342.5" width="182.6" height="89.6"/><path class="sg" d="M1356.7,3382.3h182.6M1356.7,3407.5h182.6"/><text class="c" x="1448" y="3358.5"><tspan x="1448">std::queue&lt; Nice::Property</tspan><tspan x="1448" dy="14.65">Ptr &gt;</tspan></text><text x="1368" y="3398.2">+ elements</text></g>

<g id="n_ui_impl"><rect class="b" x="288" y="3269.9" width="181.3" height="235.5"/><path class="sb" d="M288,3295.1h181.3M288,3466.2h181.3"/><text class="c" x="378.65" y="3285.2">Ui_LtcsIifServiceWidgetUI</text>
<text x="300" y="3310.5"><tspan x="300">+ gridLayout</tspan><tspan x="300" dy="14.65">+ m_raMinSpinBox</tspan><tspan x="300" dy="14.65">+ lstLabel</tspan><tspan x="300" dy="14.65">+ m_raHSpinBox</tspan><tspan x="300" dy="14.65">+ m_raSecDoubleSpinBox</tspan><tspan x="300" dy="14.65">+ decLabel</tspan><tspan x="300" dy="14.65">+ altLabel</tspan><tspan x="300" dy="14.65">+ label_6</tspan><tspan x="300" dy="14.65">+ label_4</tspan><tspan x="300" dy="14.65">+ label_3</tspan><tspan x="300" dy="14.65">and 15 more...</tspan></text>
<text x="300" y="3482.2"><tspan x="300">+ setupUi()</tspan><tspan x="300" dy="14.65">+ retranslateUi()</tspan></text></g>

<g id="n_bis"><rect class="b" x="854" y="3614" width="182.7" height="325.1"/><path class="sb" d="M854,3639.2h182.7M854,3664.5h182.7"/><text class="c" x="945.35" y="3630">Nice::BridgeItemSlots</text>
<text x="865.5" y="3680.4"><tspan x="865.5">+ slot_setLabel()</tspan><tspan x="865.5" dy="14.65">+ slot_setLabels()</tspan><tspan x="865.5" dy="14.65">+ slot_setUserConfirmation</tspan><tspan x="865.5" dy="14.65">Status()</tspan><tspan x="865.5" dy="14.65">+ slot_setSynchStatus()</tspan><tspan x="865.5" dy="14.65">+ slot_setLabel()</tspan><tspan x="865.5" dy="14.65">+ slot_setLabels()</tspan><tspan x="865.5" dy="14.65">+ slot_setUserConfirmation</tspan><tspan x="865.5" dy="14.65">Status()</tspan><tspan x="865.5" dy="14.65">+ slot_setSynchStatus()</tspan><tspan x="865.5" dy="14.65">+ slot_setLabel()</tspan><tspan x="865.5" dy="14.65">+ slot_setLabels()</tspan><tspan x="865.5" dy="14.65">+ slot_setUserConfirmation</tspan><tspan x="865.5" dy="14.65">Status()</tspan><tspan x="865.5" dy="14.65">+ slot_setSynchStatus()</tspan><tspan x="865.5" dy="14.65"># BridgeItemSlots()</tspan><tspan x="865.5" dy="14.65"># BridgeItemSlots()</tspan><tspan x="865.5" dy="14.65"># BridgeItemSlots()</tspan></text></g>

<g id="n_threadhopper"><rect class="b" x="1110" y="3599.4" width="145.7" height="353.6"/><path class="sb" d="M1110,3624.7h145.7M1110,3722.5h145.7"/><text class="c" x="1182.85" y="3615.4">Nice::ThreadHopper</text>
<text x="1121.5" y="3640.6"><tspan x="1121.5">+ m_active</tspan><tspan x="1121.5" dy="14.65">+ m_buffered</tspan><tspan x="1121.5" dy="14.65">+ DELAY_MILLIS</tspan><tspan x="1121.5" dy="14.65">- m_mutex</tspan><tspan x="1121.5" dy="14.65">- m_timer</tspan><tspan x="1121.5" dy="14.65">- m_state</tspan></text>
<text x="1121.5" y="3738.5"><tspan x="1121.5">+ start()</tspan><tspan x="1121.5" dy="14.7">+ start()</tspan><tspan x="1121.5" dy="14.7">+ start()</tspan><tspan x="1121.5" dy="14.7">- ThreadHopper()</tspan><tspan x="1121.5" dy="14.7">- ~ThreadHopper()</tspan><tspan x="1121.5" dy="14.7">- setBuffered()</tspan><tspan x="1121.5" dy="14.7">- ThreadHopper()</tspan><tspan x="1121.5" dy="14.7">- ~ThreadHopper()</tspan><tspan x="1121.5" dy="14.7">- setBuffered()</tspan><tspan x="1121.5" dy="14.7">- ThreadHopper()</tspan><tspan x="1121.5" dy="14.7">- ~ThreadHopper()</tspan><tspan x="1121.5" dy="14.7">- setBuffered()</tspan><tspan x="1121.5" dy="14.7">- slotUpdate()</tspan><tspan x="1121.5" dy="14.7">- slotUpdate()</tspan><tspan x="1121.5" dy="14.7">- slotUpdate()</tspan></text></g>

<g id="n_ui"><rect class="f" x="290.7" y="3738.3" width="176" height="75.7"/><path class="sb" d="M290.7,3763.6h176M290.7,3788.9h176"/><text class="c" x="378.7" y="3754.9">Ui::LtcsIifServiceWidgetUI</text></g>
</svg>
